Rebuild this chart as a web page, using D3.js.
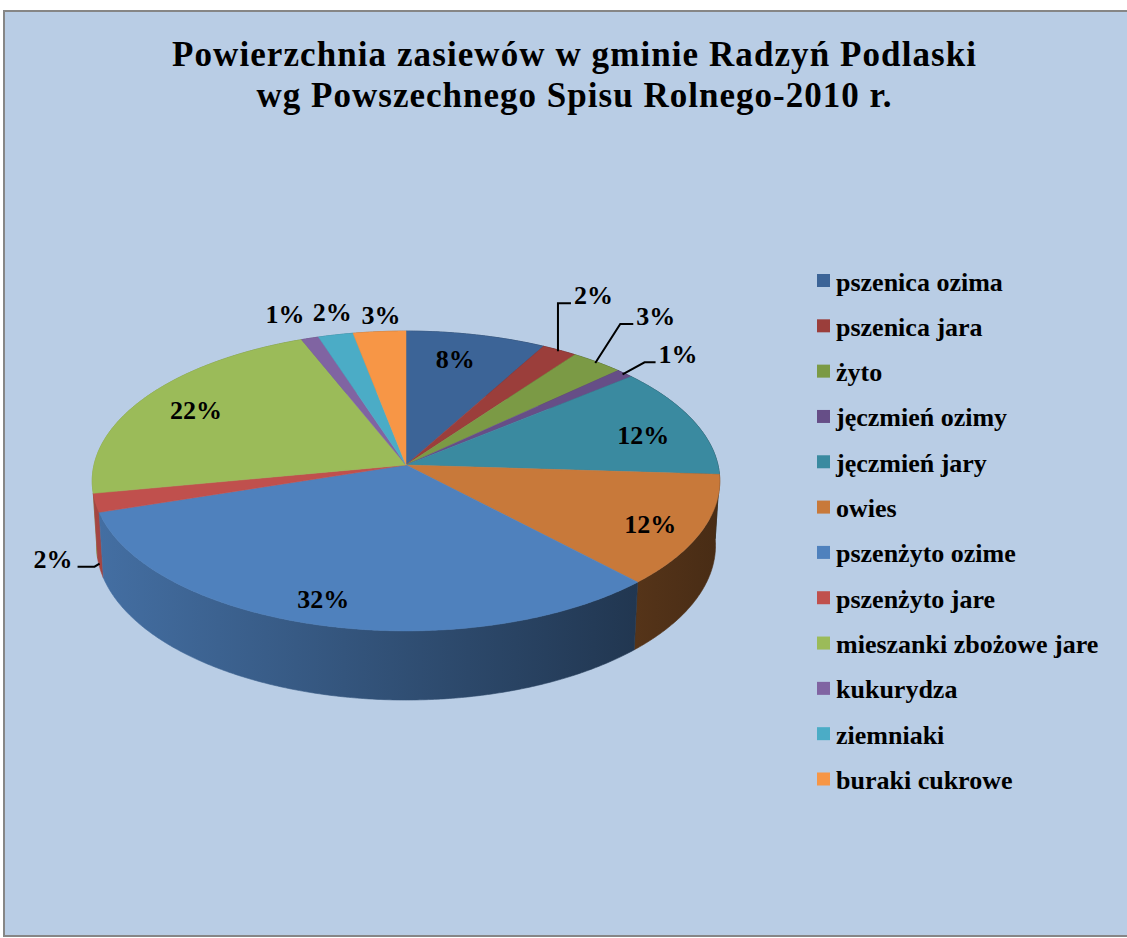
<!DOCTYPE html>
<html lang="pl">
<head>
<meta charset="utf-8">
<title>Powierzchnia zasiewów w gminie Radzyń Podlaski</title>
<script src="https://cdn.jsdelivr.net/npm/d3@7"></script>
<style>
    body { margin: 0; background: #ffffff; }
    svg { display: block; }
    .title { font-family: "Liberation Serif", "Times New Roman", serif; font-weight: bold; font-size: 35px; fill: #000; }
    .pct { font-family: "Liberation Serif", "Times New Roman", serif; font-weight: bold; font-size: 26px; fill: #000; }
    .legend-label { font-family: "Liberation Serif", "Times New Roman", serif; font-weight: bold; font-size: 26px; fill: #000; }
</style>
</head>
<body>
<svg id="chart"></svg>
<script>
// Data (share of sown area, %)
const categories = [
    "pszenica ozima", "pszenica jara", "żyto", "jęczmień ozimy", "jęczmień jary", "owies",
    "pszenżyto ozime", "pszenżyto jare", "mieszanki zbożowe jare", "kukurydza", "ziemniaki", "buraki cukrowe"
];
const values = [8, 2, 3, 1, 12, 12, 32, 2, 22, 1, 2, 3];
const colors = [
    "#3c6497", "#9b3e3b", "#7b9a45", "#664e87", "#3a8aa0", "#c8793a",
    "#4f81bd", "#c0504d", "#9bbb59", "#8064a2", "#4bacc6", "#f79646"
];
const titleLines = ["Powierzchnia zasiewów w gminie Radzyń Podlaski", "wg Powszechnego Spisu Rolnego-2010 r."];

const width = 1127;
const height = 938;

// 3D pie geometry (perspective view of a flat cylinder)
const cx = 406, cy = 465;       // projected centre of the top face
const scale = 312;              // radius in pixels at the centre depth
const dist = 8.25;              // camera distance, in radii
const tilt = Math.asin(0.475);  // elevation of the camera
const depth = 0.2366;           // thickness of the pie, in radii

const project = (angle, r, h) => {
    const X = r * Math.sin(angle);
    const Z = -r * Math.cos(angle);
    const yc = h * Math.cos(tilt) - Z * Math.sin(tilt);
    const zc = dist - Z * Math.cos(tilt) - h * Math.sin(tilt);
    const f = dist / zc;
    return [cx + scale * X * f, cy - scale * yc * f];
};

const arcPoints = (a0, a1, r, h) => {
    const n = Math.max(2, Math.ceil(Math.abs(a1 - a0) / (Math.PI / 360)));
    return d3.range(n + 1).map(i => project(a0 + (a1 - a0) * i / n, r, h));
};

const svg = d3.select("#chart")
    .attr("width", width)
    .attr("height", height)
    .attr("viewBox", `0 0 ${width} ${height}`);

// Chart area background and border
svg.append("rect")
    .attr("x", 4)
    .attr("y", 11)
    .attr("width", width + 10)
    .attr("height", 925)
    .attr("fill", "#b9cde5")
    .attr("stroke", "#868686")
    .attr("stroke-width", 2);

// Title
svg.selectAll("text.title")
    .data(titleLines)
    .join("text")
    .attr("class", "title")
    .attr("x", 574)
    .attr("y", (d, i) => 66 + i * 41)
    .attr("text-anchor", "middle")
    .attr("textLength", (d, i) => i === 0 ? 804 : 635)
    .attr("lengthAdjust", "spacing")
    .text(d => d);

// Slice angles
const pie = d3.pie().sort(null).value(d => d);
const arcs = pie(values).map((d, i) => ({ ...d, i, color: colors[i], mid: (d.startAngle + d.endAngle) / 2 }));

const line = d3.line();

// Side walls shaded from left (lit) to right (dark)
const defs = svg.append("defs");
const shade = (c, k) => {
    const rgb = d3.rgb(c);
    return d3.rgb(rgb.r * k, rgb.g * k, rgb.b * k).formatHex();
};
arcs.forEach(d => {
    const g = defs.append("linearGradient")
        .attr("id", `wall-${d.i}`)
        .attr("gradientUnits", "userSpaceOnUse")
        .attr("x1", cx - scale).attr("x2", cx + scale)
        .attr("y1", 0).attr("y2", 0);
    g.append("stop").attr("offset", 0).attr("stop-color", shade(d.color, 0.86));
    g.append("stop").attr("offset", 1).attr("stop-color", shade(d.color, 0.36));
});

const pieGroup = svg.append("g");

// Walls, back to front
const walls = arcs.slice().sort((a, b) => Math.cos(b.mid) - Math.cos(a.mid));
pieGroup.selectAll("path.wall")
    .data(walls)
    .join("path")
    .attr("class", "wall")
    .attr("d", d => {
        const top = arcPoints(d.startAngle, d.endAngle, 1, 0);
        const bottom = arcPoints(d.endAngle, d.startAngle, 1, -depth);
        return line(top.concat(bottom)) + "Z";
    })
    .attr("fill", d => `url(#wall-${d.i})`)
    .attr("stroke", d => `url(#wall-${d.i})`)
    .attr("stroke-width", 0.6);

// Top faces
pieGroup.selectAll("path.top")
    .data(arcs)
    .join("path")
    .attr("class", "top")
    .attr("d", d => line([[cx, cy]].concat(arcPoints(d.startAngle, d.endAngle, 1, 0))) + "Z")
    .attr("fill", d => d.color)
    .attr("stroke", d => d.color)
    .attr("stroke-width", 0.5);

// Data labels
const fmt = d => `${d.data}%`;

// Labels on the slices, with small nudges like the original
const insideNudge = { 0: [-8, 0], 4: [6, 6], 5: [10, 7], 6: [-15, 9], 8: [0, 0] };
const insideLabels = arcs.filter(d => d.data >= 8);
svg.selectAll("text.inside")
    .data(insideLabels)
    .join("text")
    .attr("class", "pct inside")
    .attr("x", d => project(d.mid, 0.8, 0)[0] + insideNudge[d.i][0])
    .attr("y", d => project(d.mid, 0.8, 0)[1] + insideNudge[d.i][1])
    .attr("dy", "0.35em")
    .attr("text-anchor", "middle")
    .text(fmt);

// Callouts with leader lines: [elbow dx, elbow dy, horizontal run, wall height]
const callouts = { 1: [0, -48, 13, 0], 2: [25, -39, 13, 0], 3: [22, -12, 11, 0], 7: [-5, 3, -17, -0.22] };
const calloutArcs = arcs.filter(d => callouts[d.i]);
const calloutPts = d => {
    const [ex, ey, run, h] = callouts[d.i];
    const a = project(d.mid, h === 0 ? 0.99 : 1, h);
    const elbow = [a[0] + ex, a[1] + ey];
    const end = [elbow[0] + run, elbow[1]];
    return [a, elbow, end];
};
svg.selectAll("path.leader")
    .data(calloutArcs)
    .join("path")
    .attr("class", "leader")
    .attr("d", d => line(calloutPts(d)))
    .attr("fill", "none")
    .attr("stroke", "#000")
    .attr("stroke-width", 2);
svg.selectAll("text.callout")
    .data(calloutArcs)
    .join("text")
    .attr("class", "pct callout")
    .attr("x", d => {
        const end = calloutPts(d)[2];
        return callouts[d.i][2] < 0 ? end[0] - 5 : end[0] + 3;
    })
    .attr("y", d => calloutPts(d)[2][1] + 1)
    .attr("text-anchor", d => callouts[d.i][2] < 0 ? "end" : "start")
    .text(fmt);

// Small slices at the back: labels just outside the rim
const topShift = { 9: [-12, -7], 10: [6, -6], 11: [5, 1] };
const topArcs = arcs.filter(d => topShift[d.i] !== undefined);
svg.selectAll("text.outer")
    .data(topArcs)
    .join("text")
    .attr("class", "pct outer")
    .attr("x", d => project(d.mid, 1.15, 0)[0] + topShift[d.i][0])
    .attr("y", d => project(d.mid, 1.15, 0)[1] + topShift[d.i][1])
    .attr("dy", "0.35em")
    .attr("text-anchor", "middle")
    .text(fmt);

// Legend
const legendY = d3.scaleLinear()
    .domain([0, categories.length - 1])
    .range([280.5, 779]);
const legend = svg.append("g")
    .selectAll("g")
    .data(categories)
    .join("g")
    .attr("transform", (d, i) => `translate(817, ${legendY(i)})`);
legend.append("rect")
    .attr("x", 0)
    .attr("y", -6.5)
    .attr("width", 13)
    .attr("height", 13)
    .attr("fill", (d, i) => colors[i]);
legend.append("text")
    .attr("class", "legend-label")
    .attr("x", 19)
    .attr("y", 10)
    .text(d => d);
</script>
</body>
</html>
